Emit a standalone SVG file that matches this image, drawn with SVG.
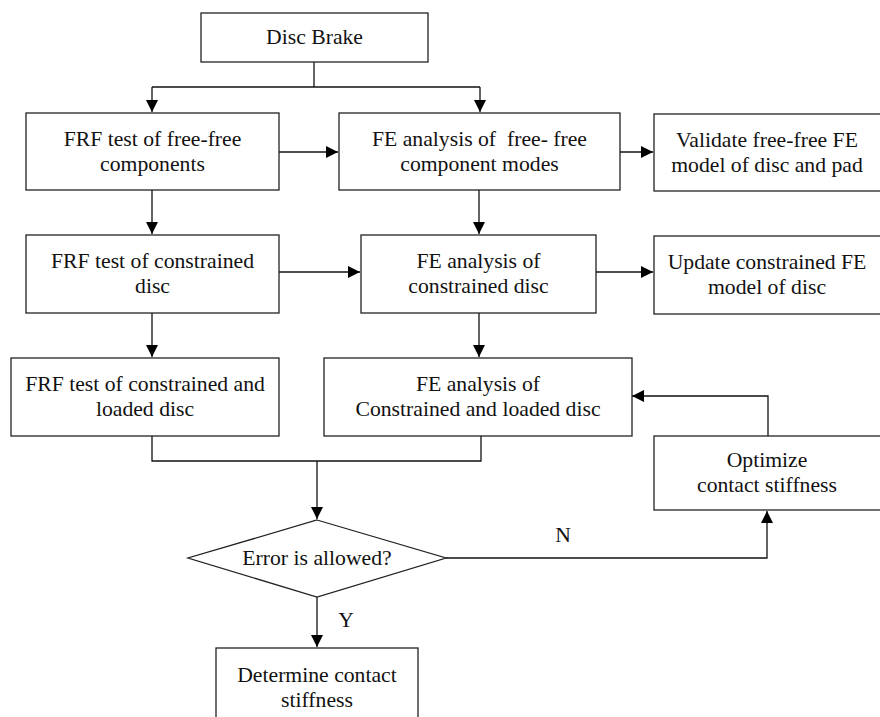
<svg xmlns="http://www.w3.org/2000/svg" width="880" height="717" viewBox="0 0 880 717">
<style>
.box{fill:#fff;stroke:#222;stroke-width:1.3}
.t{font-family:'Liberation Serif', 'Times New Roman', Times, serif;font-size:21.7px;fill:#111;text-anchor:middle}
.c{fill:none;stroke:#111;stroke-width:1.3}
</style>
<defs>
<marker id="ah" markerUnits="userSpaceOnUse" markerWidth="12" markerHeight="12" viewBox="0 0 12 12" refX="12" refY="6" orient="auto">
<path d="M0,0 L12,6 L0,12 Z" fill="#000"/>
</marker>
</defs>
<rect width="880" height="717" fill="#fff"/>
<g id="connectors">
<path class="c" d="M314,62 V87"/>
<path class="c" d="M152,87 H480"/>
<path class="c" d="M152,87 V112" marker-end="url(#ah)"/>
<path class="c" d="M480,87 V112" marker-end="url(#ah)"/>
<path class="c" d="M279,152 H338" marker-end="url(#ah)"/>
<path class="c" d="M620,152 H653" marker-end="url(#ah)"/>
<path class="c" d="M152,190 V234" marker-end="url(#ah)"/>
<path class="c" d="M479,190 V234" marker-end="url(#ah)"/>
<path class="c" d="M279,272 H360" marker-end="url(#ah)"/>
<path class="c" d="M596,272 H653" marker-end="url(#ah)"/>
<path class="c" d="M152,313 V357" marker-end="url(#ah)"/>
<path class="c" d="M479,313 V357" marker-end="url(#ah)"/>
<path class="c" d="M152,436 V461 H481 V436"/>
<path class="c" d="M317,461 V519" marker-end="url(#ah)"/>
<path class="c" d="M446,558 H767 V511" marker-end="url(#ah)"/>
<path class="c" d="M768,436 V396 H632" marker-end="url(#ah)"/>
<path class="c" d="M317,597 V647" marker-end="url(#ah)"/>
<text class="t" x="563" y="542">N</text>
<text class="t" x="346" y="627">Y</text>
</g>
<g id="disc-brake">
<rect class="box" x="201" y="13" width="227" height="49"/>
<text class="t" x="314.5" y="44">Disc Brake</text>
</g>
<g id="frf-free">
<rect class="box" x="26" y="113" width="253" height="77"/>
<text class="t" x="152.5" y="146">FRF test of free-free</text>
<text class="t" x="152.5" y="171">components</text>
</g>
<g id="fe-free">
<rect class="box" x="339" y="113" width="281" height="77"/>
<text class="t" x="479.5" y="146" xml:space="preserve">FE analysis of  free- free</text>
<text class="t" x="479.5" y="171">component modes</text>
</g>
<g id="validate">
<rect class="box" x="654" y="114" width="230" height="77"/>
<text class="t" x="767" y="147">Validate free-free FE</text>
<text class="t" x="767" y="172">model of disc and pad</text>
</g>
<g id="frf-constrained">
<rect class="box" x="26" y="235" width="253" height="78"/>
<text class="t" x="152.5" y="268">FRF test of constrained</text>
<text class="t" x="152.5" y="293">disc</text>
</g>
<g id="fe-constrained">
<rect class="box" x="361" y="235" width="235" height="78"/>
<text class="t" x="478.5" y="268">FE analysis of</text>
<text class="t" x="478.5" y="293">constrained disc</text>
</g>
<g id="update">
<rect class="box" x="654" y="236" width="230" height="78"/>
<text class="t" x="767" y="269">Update constrained FE</text>
<text class="t" x="767" y="294">model of disc</text>
</g>
<g id="frf-loaded">
<rect class="box" x="11" y="358" width="268" height="78"/>
<text class="t" x="145" y="391">FRF test of constrained and</text>
<text class="t" x="145" y="416">loaded disc</text>
</g>
<g id="fe-loaded">
<rect class="box" x="324" y="358" width="308" height="78"/>
<text class="t" x="478" y="391">FE analysis of</text>
<text class="t" x="478" y="416">Constrained and loaded disc</text>
</g>
<g id="optimize">
<rect class="box" x="654" y="436" width="230" height="74"/>
<text class="t" x="767" y="467">Optimize</text>
<text class="t" x="767" y="492">contact stiffness</text>
</g>
<g id="decision">
<polygon class="box" points="317,520 446,558 317,597 188,558"/>
<text class="t" x="317" y="565">Error is allowed?</text>
</g>
<g id="determine">
<rect class="box" x="216" y="648" width="202" height="80"/>
<text class="t" x="317" y="682">Determine contact</text>
<text class="t" x="317" y="707">stiffness</text>
</g>
</svg>
